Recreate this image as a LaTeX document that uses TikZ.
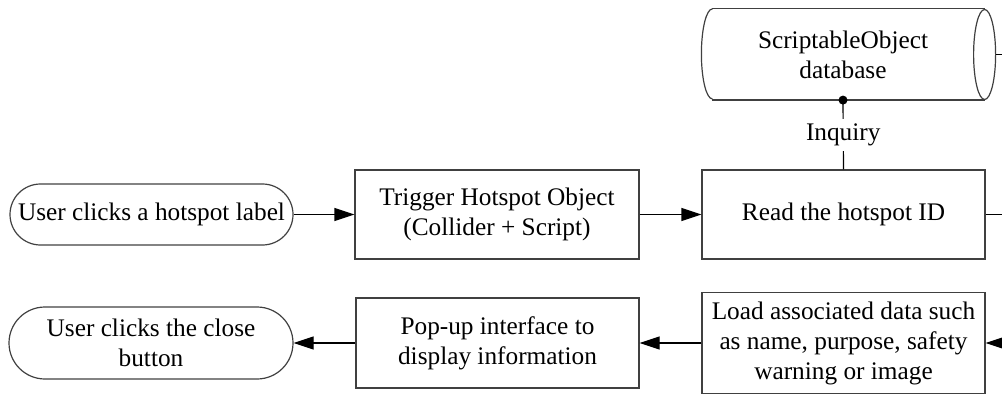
\documentclass[tikz,border=0pt]{standalone}
\usepackage{fontspec}
\setmainfont{Liberation Serif}
\usetikzlibrary{arrows.meta}
\begin{document}
\begin{tikzpicture}[x=1pt,y=-1pt,line width=1.2pt,
  every node/.style={font=\fontsize{25.3}{30}\selectfont,align=center,inner sep=0pt},
  box/.style={draw=black!75,rectangle},
  term/.style={draw=black!75,rectangle},
  flow/.style={draw=black,-{Triangle[length=20pt,width=13pt]}},
  link/.style={draw=black}]
\useasboundingbox (0,0) rectangle (1002,396);
% nodes
\node[term,rounded corners=30.5pt,minimum width=283pt,minimum height=61pt] (start) at (151.5,214.5) {User clicks a hotspot label};
\node[box,minimum width=284pt,minimum height=89pt] (trigger) at (497,214.5) {Trigger Hotspot Object\\(Collider + Script)};
\node[box,minimum width=283pt,minimum height=89pt] (read) at (843.5,214.5) {Read the hotspot ID};
\node[minimum width=282pt,minimum height=90pt] (db) at (843,54.5) {ScriptableObject\\database};
\node[box,minimum width=283pt,minimum height=101pt] (load) at (843.5,343) {Load associated data such\\as name, purpose, safety\\warning or image};
\node[box,minimum width=283pt,minimum height=90pt] (popup) at (497.5,343) {Pop-up interface to\\display information};
\node[term,rounded corners=36pt,minimum width=284pt,minimum height=72pt] (close) at (151,343) {User clicks the close\\button};
% cylinder outline
\draw[black!75] ([xshift=11pt]db.north west) -- (db.north east);
\draw[black!75] ([xshift=11pt]db.south west) -- (db.south east);
\draw[black!75] ([xshift=11pt]db.north west) arc[start angle=90,end angle=270,x radius=11pt,y radius=45pt];
\draw[black!75] (db.east) ellipse [x radius=11pt,y radius=45pt];
% free ends
\coordinate (e1) at (1002,54.5);
\coordinate (e2) at (1002,214.5);
\coordinate (e3) at (1002,343);
% connectors
\draw[flow] (start) -- (trigger);
\draw[flow] (trigger) -- (read);
\fill (db.south) circle [radius=4.5pt];
\draw[link] (db.south) -- node[fill=white,inner sep=5pt] (inq) {Inquiry} (read.north);
\draw[link] ([xshift=11pt]db.east) -- (e1);
\draw[link] (read) -- (e2);
\draw[flow] (e3) -- (load);
\draw[flow] (load) -- (popup);
\draw[flow] (popup) -- (close);
\end{tikzpicture}
\end{document}
